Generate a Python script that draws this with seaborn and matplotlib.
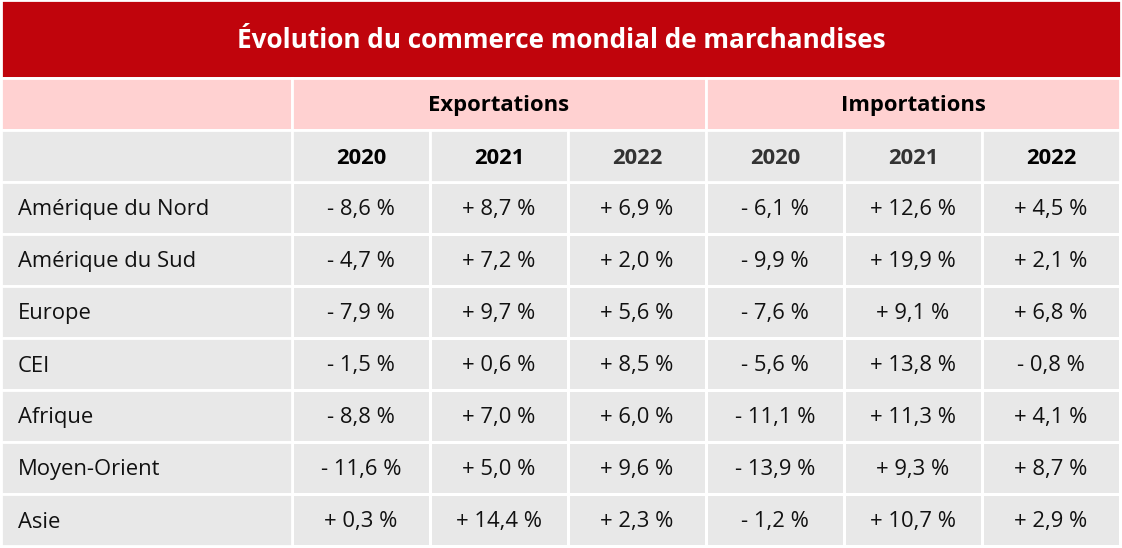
import numpy as np
import pandas as pd
import matplotlib
matplotlib.use('Agg')
import matplotlib.pyplot as plt
import seaborn as sns
from matplotlib.colors import ListedColormap
from matplotlib.patches import Rectangle

title = 'Évolution du commerce mondial de marchandises'
groups = ['Exportations', 'Importations']
years = ['2020', '2021', '2022']
regions = ['Amérique du Nord', 'Amérique du Sud', 'Europe', 'CEI',
           'Afrique', 'Moyen-Orient', 'Asie']

exports_2020 = [-8.6, -4.7, -7.9, -1.5, -8.8, -11.6, 0.3]
exports_2021 = [8.7, 7.2, 9.7, 0.6, 7.0, 5.0, 14.4]
exports_2022 = [6.9, 2.0, 5.6, 8.5, 6.0, 9.6, 2.3]
imports_2020 = [-6.1, -9.9, -7.6, -5.6, -11.1, -13.9, -1.2]
imports_2021 = [12.6, 19.9, 9.1, 13.8, 11.3, 9.3, 10.7]
imports_2022 = [4.5, 2.1, 6.8, -0.8, 4.1, 8.7, 2.9]

RED = '#c0040c'
PINK = '#ffd1d1'
GREY = '#e8e8e8'
FS = 15.8

sns.set_theme(style='white')
plt.rcParams['font.family'] = ['Open Sans', 'DejaVu Sans']

cols = pd.MultiIndex.from_product([groups, years])
df = pd.DataFrame(np.column_stack([exports_2020, exports_2021, exports_2022,
                                   imports_2020, imports_2021, imports_2022]),
                  index=regions, columns=cols)


def fmt(v):
    s = '-' if v < 0 else '+'
    return s + ' ' + ('%.1f' % abs(v)).replace('.', ',') + ' %'


labels = df.map(fmt)

W, H = 1122, 548
fig = plt.figure(figsize=(W / 100, H / 100), dpi=100)
fig.patch.set_facecolor('white')

# background axes in pixel coordinates for the header and label column
bg = fig.add_axes([0, 0, 1, 1])
bg.set_xlim(0, W)
bg.set_ylim(H, 0)
bg.set_axis_off()


def cell(x0, x1, y0, y1, color):
    bg.add_patch(Rectangle((x0, y0), x1 - x0, y1 - y0, facecolor=color,
                           edgecolor='white', linewidth=2))


x_edges = [292 + 138 * i for i in range(7)]
row_h = 52
dy = 2  # nudge text down a little, va='center' sits high
cell(1, 1121, 0, 78, RED)
bg.text(W / 2, 39 + dy, title, color='white', fontsize=18.8,
        fontweight='bold', ha='center', va='center')
cell(1, x_edges[0], 78, 130, PINK)
for g, name in enumerate(groups):
    cell(x_edges[3 * g], x_edges[3 * g + 3], 78, 130, PINK)
    bg.text((x_edges[3 * g] + x_edges[3 * g + 3]) / 2, 104 + dy, name,
            fontsize=FS, fontweight='bold', color='black',
            ha='center', va='center')
cell(1, x_edges[0], 130, 182, GREY)
year_colors = ['black', 'black', '#333333', '#333333', '#333333', 'black']
for i in range(6):
    cell(x_edges[i], x_edges[i + 1], 130, 182, GREY)
    bg.text((x_edges[i] + x_edges[i + 1]) / 2, 156 + dy, years[i % 3],
            fontsize=FS, fontweight='bold', color=year_colors[i],
            ha='center', va='center')
for r, name in enumerate(regions):
    y0 = 182 + r * row_h
    cell(1, x_edges[0], y0, y0 + row_h, GREY)
    bg.text(18, y0 + row_h / 2 + dy, name, fontsize=FS, color='#111111',
            ha='left', va='center')

# data cells drawn as a seaborn heatmap
ax = fig.add_axes([x_edges[0] / W, (H - 546) / H,
                   (x_edges[-1] - x_edges[0]) / W, 364 / H])
sns.heatmap(df, ax=ax, cmap=ListedColormap([GREY]), cbar=False,
            annot=labels.values, fmt='', linewidths=2, linecolor='white',
            annot_kws={'fontsize': FS, 'color': '#111111'})
for t in ax.texts:
    x, y = t.get_position()
    t.set_position((x, y + dy / row_h))
ax.set_axis_off()

fig.savefig('out.png', dpi=100, facecolor='white')
